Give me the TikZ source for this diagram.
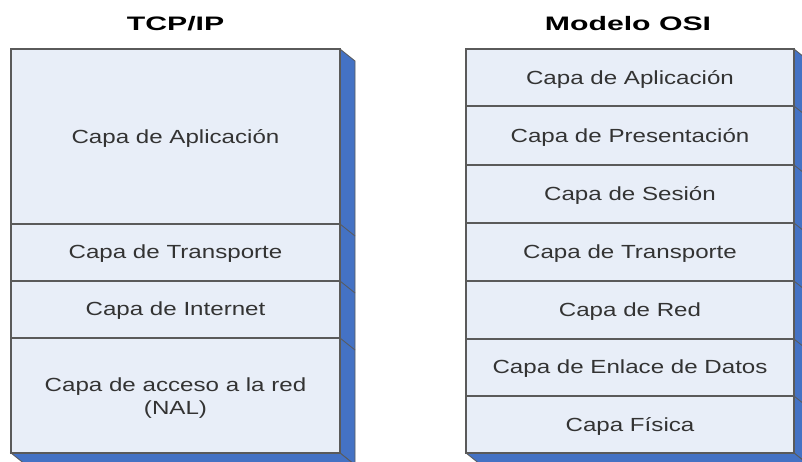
\documentclass[tikz,border=0pt]{standalone}
\usepackage{fontspec}
\setmainfont{Liberation Sans}
\newfontfamily\layerfont{Liberation Sans}[FakeStretch=1.27]
\newfontfamily\titlefont{Liberation Sans}[FakeStretch=1.55]
\definecolor{layerfill}{HTML}{E8EEF8}
\definecolor{edge}{HTML}{5A5A5A}
\definecolor{side}{HTML}{4472C4}
\definecolor{txt}{HTML}{333333}
\tikzset{
  layer/.style={draw=edge, line width=1.3pt, fill=layerfill},
  sidebox/.style={draw=edge, line width=0.8pt, fill=side},
  lbl/.style={text=txt, font=\layerfont\fontsize{19}{23}\selectfont, align=center},
  ttl/.style={text=black, font=\titlefont\bfseries\fontsize{19.5}{23}\selectfont},
  tick/.style={draw=edge, line width=0.8pt}
}
\begin{document}
\begin{tikzpicture}[x=1pt,y=-1pt]
\useasboundingbox (0,0) rectangle (802,461);
\clip (0,0) rectangle (802,461);
\fill[white] (0,0) rectangle (802,461);

% ---------- TCP/IP ----------
\node[ttl] (t1) at (175.5,24) {TCP/IP};
% extrusion
\filldraw[sidebox] (340,49) -- (355,61) -- (355,465) -- (340,453) -- cycle;
\filldraw[sidebox] (11,453) -- (26,465) -- (355,465) -- (340,453) -- cycle;
\foreach \y in {224,281,338} \draw[tick] (340,\y) -- (355,\y+12);
% layers
\draw[layer] (11,49) rectangle (340,224);
\draw[layer] (11,224) rectangle (340,281);
\draw[layer] (11,281) rectangle (340,338);
\draw[layer] (11,338) rectangle (340,453);
\node[lbl] (ta) at (175.5,138) {Capa de Aplicación};
\node[lbl] (tt) at (175.5,254) {Capa de Transporte};
\node[lbl] (ti) at (175.5,311) {Capa de Internet};
\node[lbl] (tn) at (175.5,398) {Capa de acceso a la red\\(NAL)};

% ---------- OSI ----------
\node[ttl] (t2) at (628,24) {Modelo OSI};
\filldraw[sidebox] (794,49) -- (809,61) -- (809,465) -- (794,453) -- cycle;
\filldraw[sidebox] (466,453) -- (481,465) -- (809,465) -- (794,453) -- cycle;
\foreach \y in {106,165,223,281,339,396} \draw[tick] (794,\y) -- (809,\y+12);
\draw[layer] (466,49) rectangle (794,106);
\draw[layer] (466,106) rectangle (794,165);
\draw[layer] (466,165) rectangle (794,223);
\draw[layer] (466,223) rectangle (794,281);
\draw[layer] (466,281) rectangle (794,339);
\draw[layer] (466,339) rectangle (794,396);
\draw[layer] (466,396) rectangle (794,453);
\node[lbl] (o1) at (630,79) {Capa de Aplicación};
\node[lbl] (o2) at (630,137) {Capa de Presentación};
\node[lbl] (o3) at (630,195.5) {Capa de Sesión};
\node[lbl] (o4) at (630,253.5) {Capa de Transporte};
\node[lbl] (o5) at (630,311.5) {Capa de Red};
\node[lbl] (o6) at (630,369) {Capa de Enlace de Datos};
\node[lbl] (o7) at (630,426) {Capa Física};
\end{tikzpicture}
\end{document}
